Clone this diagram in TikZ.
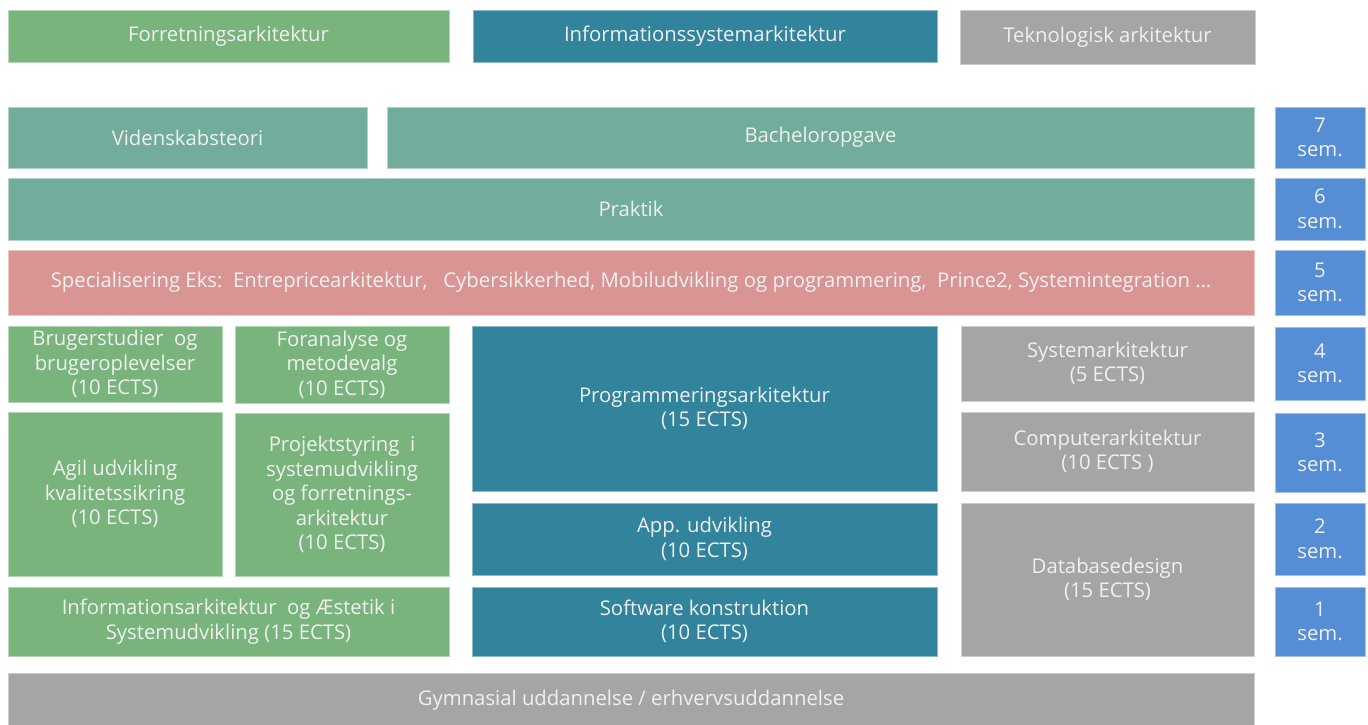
\documentclass[tikz,border=0pt]{standalone}
\usepackage{fontspec}
\setmainfont{Open Sans}
\definecolor{forrgreen}{HTML}{79B47D}
\definecolor{infoteal}{HTML}{31849B}
\definecolor{teknogray}{HTML}{A5A5A5}
\definecolor{fagteal}{HTML}{72AC9D}
\definecolor{specred}{HTML}{D99594}
\definecolor{semblue}{HTML}{558ED5}
\tikzset{
x=1pt, y=-1pt, % one unit is one pixel of the plan
box/.style={rectangle, anchor=north west, inner sep=0pt, outer sep=0pt, align=center,
  text=white!94!black, font=\fontsize{20.3}{24.5}\selectfont, line width=0.8pt}, % every block
forr/.style={box, fill=forrgreen, draw=forrgreen!55!white}, % forretningsarkitektur
info/.style={box, fill=infoteal, draw=infoteal!55!white}, % informationssystemarkitektur
tekn/.style={box, fill=teknogray, draw=teknogray!55!white}, % teknologisk arkitektur
fag/.style={box, fill=fagteal, draw=fagteal!55!white}, % faelles fag
spec/.style={box, fill=specred, draw=specred!55!white}, % specialisering
sem/.style={box, fill=semblue, draw=semblue!55!white}, % semester
}
\begin{document}
\begin{tikzpicture}
  \useasboundingbox (0,0) rectangle (1368,725);
  % søjler
  \node[forr, minimum width=441, minimum height=52] (forr) at (8,10) {Forretningsarkitektur};
  \node[info, minimum width=464, minimum height=52] (info) at (473,10) {Informationssystemarkitektur};
  \node[tekn, minimum width=295, minimum height=54] (tekn) at (960,10) {Teknologisk arkitektur};
  % 7. - 5. semester
  \node[fag, minimum width=359, minimum height=61] (viden) at (8,107) {Videnskabsteori};
  \node[fag, minimum width=867, minimum height=61] (bach) at (387,107) {Bacheloropgave};
  \node[fag, minimum width=1246, minimum height=62] (prak) at (8,178) {Praktik};
  \node[spec, minimum width=1246, minimum height=65] (spec) at (8,250)
    {Specialisering Eks:\ \ Entrepricearkitektur,\ \ \ Cybersikkerhed, Mobiludvikling og programmering,\ \ Prince2, Systemintegration \dots};
  % forretningsarkitektur, 1. - 4. semester
  \node[forr, minimum width=214, minimum height=76] (brug) at (8,326) {Brugerstudier\ \ og\\brugeroplevelser\\(10 ECTS)};
  \node[forr, minimum width=214, minimum height=77] (foran) at (235,326) {Foranalyse og\\metodevalg\\(10 ECTS)};
  \node[forr, minimum width=214, minimum height=164] (agil) at (8,412) {Agil udvikling\\kvalitetssikring\\(10 ECTS)};
  \node[forr, minimum width=214, minimum height=163] (proj) at (235,413) {Projektstyring\ \ i\\systemudvikling\\og forretnings-\\arkitektur\\(10 ECTS)};
  \node[forr, minimum width=441, minimum height=69] (infark) at (8,587) {Informationsarkitektur\ \ og Æstetik i\\Systemudvikling (15 ECTS)};
  % informationssystemarkitektur, 1. - 4. semester
  \node[info, minimum width=465, minimum height=165] (prog) at (472,326) {Programmeringsarkitektur\\(15 ECTS)};
  \node[info, minimum width=465, minimum height=72] (app) at (472,503) {App. udvikling\\(10 ECTS)};
  \node[info, minimum width=465, minimum height=69] (soft) at (472,587) {Software konstruktion\\(10 ECTS)};
  % teknologisk arkitektur, 1. - 4. semester
  \node[tekn, minimum width=293, minimum height=75] (sysark) at (961,326) {Systemarkitektur\\(5 ECTS)};
  \node[tekn, minimum width=293, minimum height=79] (comp) at (961,412) {Computerarkitektur\\(10 ECTS )};
  \node[tekn, minimum width=293, minimum height=153] (db) at (961,503) {Databasedesign\\(15 ECTS)};
  % adgang
  \node[tekn, minimum width=1246, minimum height=55] (gym) at (8,673) {Gymnasial uddannelse / erhvervsuddannelse};
  % semestre
  \node[sem, minimum width=90, minimum height=61] (s7) at (1275,107) {7\\sem.};
  \node[sem, minimum width=90, minimum height=62] (s6) at (1275,178) {6\\sem.};
  \node[sem, minimum width=90, minimum height=65] (s5) at (1275,250) {5\\sem.};
  \node[sem, minimum width=90, minimum height=73] (s4) at (1275,327) {4\\sem.};
  \node[sem, minimum width=90, minimum height=79] (s3) at (1275,413) {3\\sem.};
  \node[sem, minimum width=90, minimum height=72] (s2) at (1275,503) {2\\sem.};
  \node[sem, minimum width=90, minimum height=69] (s1) at (1275,587) {1\\sem.};
\end{tikzpicture}
\end{document}
